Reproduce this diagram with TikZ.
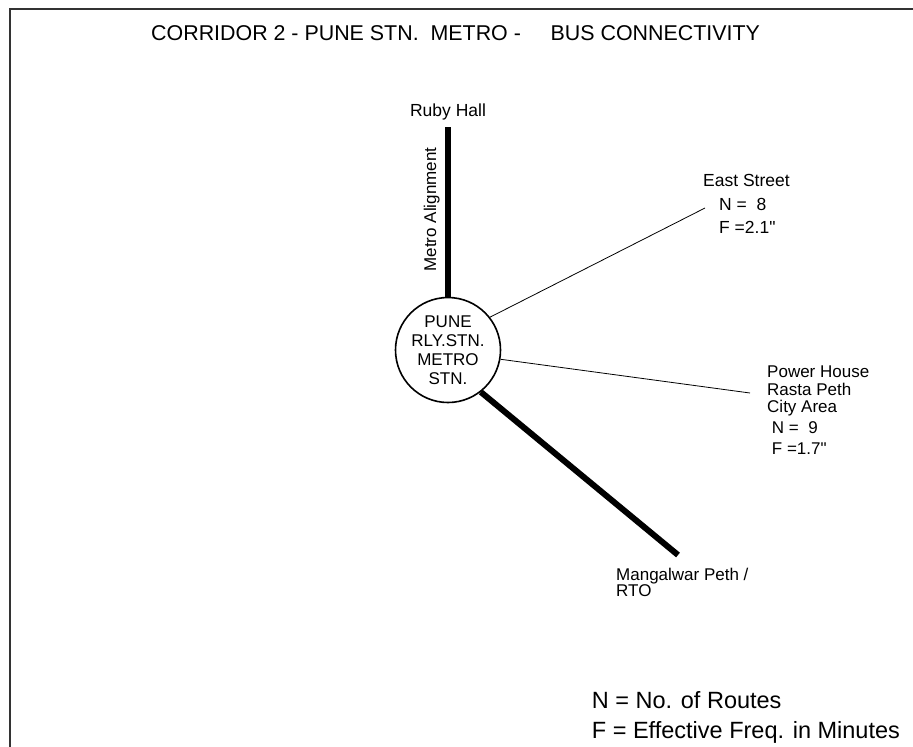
\documentclass[tikz,border=0pt]{standalone}
\usepackage{fontspec}
\setmainfont{Liberation Sans}[Ligatures=TeXOff]
\usepackage{tikz}

\tikzset{
    lbl/.style={anchor=north west, inner sep=0pt, align=left},
    metroline/.style={line width=6pt},
    busline/.style={line width=0.8pt},
}

\begin{document}
\begin{tikzpicture}[x=1pt, y=-1pt]
    \useasboundingbox (0,0) rectangle (913,747);
    \draw[line width=2pt, black!80] (913,9) -| (9.5,747);

    \node[anchor=base west, inner sep=0pt, font=\fontsize{21.4}{24}\selectfont] (title) at (151,40)
        {CORRIDOR 2 - PUNE STN.\ \ METRO -\ \ \ \ \ BUS CONNECTIVITY};

    \node[circle, draw, line width=1.6pt, minimum size=105pt, inner sep=0pt, align=center,
        font=\fontsize{17}{19}\selectfont] (stn) at (448,350) {PUNE\\RLY.STN.\\METRO\\STN.};

    \node[anchor=base, inner sep=0pt, font=\fontsize{17.5}{20}\selectfont] (ruby) at (448,116) {Ruby Hall};
    \coordinate (rubyend) at (448,127);
    \draw[metroline] (rubyend) -- (stn);
    \node[rotate=90, anchor=base, inner sep=0pt, font=\fontsize{17}{20}\selectfont] (align) at (436,209.5) {Metro Alignment};

    \node[lbl, font=\fontsize{17.5}{23.5}\selectfont] (east) at (703,174.5)
        {East Street\\\hspace*{16pt}N =\ \ 8\\\hspace*{16pt}F =2.1"};
    \coordinate (eastend) at (705,208);
    \draw[busline] (stn.38) -- (eastend);

    \node[lbl, font=\fontsize{17}{17.5}\selectfont] (power) at (767,366)
        {Power House\\Rasta Peth\\City Area\\[3.5pt]\hspace*{4.7pt}N =\ \ 9\\[3.5pt]\hspace*{4.7pt}F =1.7"};
    \coordinate (powerend) at (750,393);
    \draw[busline] (stn.-10) -- (powerend);

    \node[lbl, font=\fontsize{17}{14.3}\selectfont] (mangal) at (616,567.8) {Mangalwar Peth /\\RTO};
    \coordinate (mangalend) at (678,555);
    \draw[metroline] (stn.-52) -- (mangalend);

    \node[lbl, font=\fontsize{23.5}{30}\selectfont] (legend) at (591.7,691.5)
        {N = No. of Routes\\F = Effective Freq. in Minutes};
\end{tikzpicture}
\end{document}
